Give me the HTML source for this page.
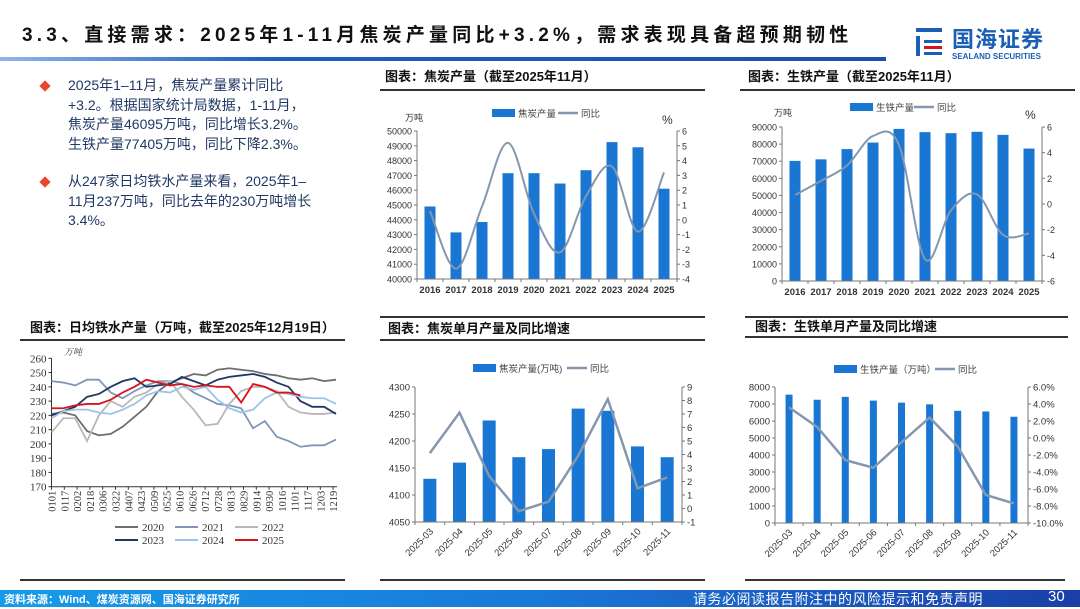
<!DOCTYPE html>
<html><head><meta charset="utf-8">
<style>
body{margin:0;width:1080px;height:607px;overflow:hidden;background:#fff;font-family:"Liberation Sans","Noto Sans CJK SC",sans-serif;position:relative}
.abs{position:absolute;white-space:nowrap}
.bul{color:#1f3864;font-size:14px;line-height:19.5px;position:absolute;left:68px;width:250px}
.dia{position:absolute;left:41px;width:8px;height:8px;background:#e8472c;transform:rotate(45deg)}
</style></head><body>
<div class="abs" style="left:22px;top:20px;font-size:19px;font-weight:bold;letter-spacing:4.2px;color:#111">3.3、直接需求：2025年1-11月焦炭产量同比+3.2%，需求表现具备超预期韧性</div>
<div class="abs" style="left:0;top:57px;width:886px;height:4px;background:linear-gradient(90deg,#8fb6e6,#1f5fbf 30%,#1f4fa8)"></div>
<div class="abs" style="left:912px;top:22px;width:150px;height:42px">
 <svg width="40" height="40" style="position:absolute;left:0;top:0"><rect x="4" y="6" width="26" height="4" fill="#1a5fb4"/><rect x="4" y="14" width="4" height="20" fill="#1a5fb4"/><rect x="12" y="18" width="18" height="3" fill="#1a5fb4"/><rect x="12" y="24" width="18" height="3" fill="#d7141a"/><rect x="12" y="30" width="18" height="3" fill="#1a5fb4"/></svg>
 <div class="abs" style="left:40px;top:0;font-size:22px;font-weight:bold;color:#1a5fb4;letter-spacing:1px">国海证券</div>
 <div class="abs" style="left:40px;top:30px;font-size:8px;font-weight:bold;color:#1a5fb4">SEALAND SECURITIES</div>
</div>
<div class="dia" style="top:82px"></div>
<div class="bul" style="top:76px">2025年1–11月，焦炭产量累计同比+3.2。根据国家统计局数据，1-11月，焦炭产量46095万吨，同比增长3.2%。生铁产量77405万吨，同比下降2.3%。</div>
<div class="dia" style="top:178px"></div>
<div class="bul" style="top:172px">从247家日均铁水产量来看，2025年1–11月237万吨，同比去年的230万吨增长3.4%。</div>
<div class="abs" style="left:0;top:590px;width:1080px;height:17px;background:linear-gradient(90deg,#169be9,#1a78d8 50%,#1a3fa6)"></div>
<div class="abs" style="left:4px;top:591px;font-size:11px;font-weight:bold;color:#fff">资料来源：Wind、煤炭资源网、国海证券研究所</div>
<div class="abs" style="left:693px;top:589px;font-size:14px;color:#fff;letter-spacing:0.5px">请务必阅读报告附注中的风险提示和免责声明</div>
<div class="abs" style="left:1048px;top:588px;font-size:15px;color:#fff">30</div>
<svg id="sv" width="1080" height="607" style="position:absolute;left:0;top:0" font-family="Liberation Sans, Noto Sans CJK SC, sans-serif"></svg>
<script>
// chart 1: coke annual
const c1Cats=['2016','2017','2018','2019','2020','2021','2022','2023','2024','2025'];
const c1Bars=[44900,43150,43850,47150,47150,46450,47350,49250,48900,46100];
const c1Line=[0.6,-3.3,0.9,5.2,0.4,-2.2,1.6,3.6,-0.8,3.2];
const c1LeftTicks=[40000,41000,42000,43000,44000,45000,46000,47000,48000,49000,50000];
const c1RightTicks=[-4,-3,-2,-1,0,1,2,3,4,5,6];
// chart 2: pig iron annual
const c2Cats=['2016','2017','2018','2019','2020','2021','2022','2023','2024','2025'];
const c2Bars=[70200,71100,77100,80900,88900,87000,86400,87200,85400,77400];
const c2Line=[0.7,1.8,3.0,5.3,4.6,-4.3,-0.5,0.75,-2.4,-2.3];
const c2LeftTicks=[0,10000,20000,30000,40000,50000,60000,70000,80000,90000];
const c2RightTicks=[-6,-4,-2,0,2,4,6];
// chart 3: daily hot metal
const c3Cats=['0101','0117','0202','0218','0306','0322','0407','0423','0509','0525','0610','0626','0712','0728','0813','0829','0914','0930','1016','1101','1117','1203','1219'];
const c3Ticks=[170,180,190,200,210,220,230,240,250,260];
const c3Years=['2020','2021','2022','2023','2024','2025'];
const s2020=[221,222,220,209,206,207,212,219,226,237,243,246,249,248,252,253,252,251,249,248,246,245,246,244,245];
const s2021=[244,243,241,245,245,236,232,237,241,244,244,242,236,232,228,227,225,211,216,205,202,198,199,199,203];
const s2022=[208,218,218,202,220,230,226,233,236,242,244,233,224,213,214,228,237,240,240,237,226,222,221,221,222];
const s2023=[220,223,226,233,235,240,244,246,240,241,242,247,244,241,245,247,248,249,247,243,240,230,226,226,221];
const s2024=[218,223,224,224,222,221,224,228,234,237,236,240,238,240,231,225,222,224,232,236,235,233,232,232,228];
const s2025=[225,225,227,228,228,231,236,240,245,243,241,242,240,241,240,240,229,242,240,236,236,234,null,null,null];
// chart 4: coke monthly
const c4Cats=['2025-03','2025-04','2025-05','2025-06','2025-07','2025-08','2025-09','2025-10','2025-11'];
const c4Bars=[4130,4160,4238,4170,4185,4260,4256,4190,4170];
const c4Line=[4.1,7.1,2.4,-0.2,0.5,3.9,8.1,1.5,2.3];
const c4LeftTicks=[4050,4100,4150,4200,4250,4300];
const c4RightTicks=[-1,0,1,2,3,4,5,6,7,8,9];
// chart 5: pig iron monthly
const c5Cats=['2025-03','2025-04','2025-05','2025-06','2025-07','2025-08','2025-09','2025-10','2025-11'];
const c5Bars=[7550,7250,7420,7200,7080,6980,6600,6560,6250];
const c5Line=[3.6,1.3,-2.6,-3.5,-0.5,2.4,-1.0,-6.7,-7.7];
const c5LeftTicks=[0,1000,2000,3000,4000,5000,6000,7000,8000];
const c5RightTicks=[-10,-8,-6,-4,-2,0,2,4,6];

const NS='http://www.w3.org/2000/svg';
const sv=document.getElementById('sv');
function mk(tag,attrs,parent){const e=document.createElementNS(NS,tag);for(const k in attrs)e.setAttribute(k,attrs[k]);(parent||sv).appendChild(e);return e;}
function txt(s,attrs,parent){const e=mk('text',attrs,parent);e.textContent=s;return e;}
function smooth(pts){let d='M'+pts[0][0]+','+pts[0][1];for(let i=0;i<pts.length-1;i++){const p0=pts[i-1]||pts[i],p1=pts[i],p2=pts[i+1],p3=pts[i+2]||p2;const t=6;d+=' C'+(p1[0]+(p2[0]-p0[0])/t)+','+(p1[1]+(p2[1]-p0[1])/t)+' '+(p2[0]-(p3[0]-p1[0])/t)+','+(p2[1]-(p3[1]-p1[1])/t)+' '+p2[0]+','+p2[1];}return d;}
const BAR='#1976d2',LINE='#8497b0';

function panelTitle(s,x,y,lx0,lx1,ly,name){
 const t=txt(s,{x:x,y:y,'font-size':13,'font-weight':'bold',fill:'#111'});
 
 
 const l=mk('line',{x1:lx0,x2:lx1,y1:ly,y2:ly,stroke:'#333','stroke-width':2});
 
 
}

function combo(o){
 const g=mk('g',{});
 
 
 const n=o.cats.length,cw=(o.x1-o.x0)/n;
 const lmin=o.lt[0],lmax=o.lt[o.lt.length-1],rmin=o.rt[0],rmax=o.rt[o.rt.length-1];
 const yl=v=>o.yB-(v-lmin)/(lmax-lmin)*(o.yB-o.yT);
 const yr=v=>o.yB-(v-rmin)/(rmax-rmin)*(o.yB-o.yT);
 const xc=i=>o.x0+cw*(i+0.5);
 o.bars.forEach((v,i)=>{const r=mk('rect',{x:xc(i)-o.bw/2,y:yl(v),width:o.bw,height:o.yB-yl(v),fill:BAR},g);
  
  });
 const pts=o.line.map((v,i)=>[xc(i),yr(v)]);
 const p=mk('path',{d:o.smooth?smooth(pts):'M'+pts.map(q=>q.join(',')).join(' L'),fill:'none',stroke:LINE,'stroke-width':o.lw||2},g);
 
 
 const ax=mk('path',{d:`M${o.x0},${o.yT}V${o.yB}H${o.x1}V${o.yT}`,fill:'none',stroke:'#777','stroke-width':1},g);
 
 
 o.lt.forEach(v=>{mk('line',{x1:o.x0-3,x2:o.x0,y1:yl(v),y2:yl(v),stroke:'#777'},g);
  const t=txt(String(v),{x:o.x0-5,y:yl(v)+3.5,'font-size':o.fs,'text-anchor':'end',fill:'#333'},g);
  
  });
 o.rt.forEach(v=>{mk('line',{x1:o.x1,x2:o.x1+3,y1:yr(v),y2:yr(v),stroke:'#777'},g);
  const t=txt(o.rfmt?o.rfmt(v):String(v),{x:o.x1+5,y:yr(v)+3.5,'font-size':o.fs,fill:'#333'},g);
  
  });
 for(let i=0;i<=n;i++)mk('line',{x1:o.x0+cw*i,x2:o.x0+cw*i,y1:o.yB,y2:o.yB+3,stroke:'#777'},g);
 o.cats.forEach((c,i)=>{let t;
  if(o.rot){t=txt(c,{x:xc(i)+4,y:o.yB+10,'font-size':9.5,'text-anchor':'end',fill:'#333',transform:`rotate(-45 ${xc(i)+4} ${o.yB+10})`},g);}
  else t=txt(c,{x:xc(i),y:o.yB+14,'font-size':9.5,'text-anchor':'middle',fill:'#333','font-weight':'bold'},g);
  
  });
 const lg=mk('g',{},g);
 
 
 mk('rect',{x:o.lx,y:o.ly-4,width:o.lbw,height:8,fill:BAR},lg);
 txt(o.lbl,{x:o.lx+o.lbw+3,y:o.ly+4,'font-size':9.5,fill:'#444'},lg);
 mk('line',{x1:o.llx,x2:o.llx+20,y1:o.ly,y2:o.ly,stroke:LINE,'stroke-width':2.5},lg);
 txt('同比',{x:o.llx+23,y:o.ly+4,'font-size':9.5,fill:'#444'},lg);
 if(o.unitL){const u=txt(o.unitL,{x:o.ux,y:o.uy,'font-size':9,fill:'#333'},g);
  const u2=txt('%',{x:o.px,y:o.uy+3,'font-size':12,fill:'#333'},g);}
}

panelTitle('图表：焦炭产量（截至2025年11月）',385,81,380,705,90,'coke-annual-title');
combo({name:'coke-annual-chart',cats:c1Cats,bars:c1Bars,line:c1Line,lt:c1LeftTicks,rt:c1RightTicks,x0:417,x1:677,yT:131,yB:279,bw:11,fs:9,smooth:true,lx:492,ly:113,lbw:23,lbl:'焦炭产量',llx:558,unitL:'万吨',ux:405,uy:121,px:662});
panelTitle('图表：生铁产量（截至2025年11月）',748,81,740,1075,90,'iron-annual-title');
combo({name:'iron-annual-chart',cats:c2Cats,bars:c2Bars,line:c2Line,lt:c2LeftTicks,rt:c2RightTicks,x0:782,x1:1042,yT:127,yB:281,bw:11,fs:9,smooth:true,lx:850,ly:107,lbw:23,lbl:'生铁产量',llx:914,unitL:'万吨',ux:774,uy:116,px:1025});
mk('line',{x1:380,x2:705,y1:317,y2:317,stroke:'#333','stroke-width':2});
panelTitle('图表：焦炭单月产量及同比增速',388,333,380,705,340,'coke-monthly-title');
combo({name:'coke-monthly-chart',cats:c4Cats,bars:c4Bars,line:c4Line,lt:c4LeftTicks,rt:c4RightTicks,x0:415,x1:682,yT:387,yB:522,bw:13,fs:9.5,rot:true,lw:2.5,lx:473,ly:368,lbw:23,lbl:'焦炭产量(万吨)',llx:567});
mk('line',{x1:745,x2:1068,y1:317,y2:317,stroke:'#333','stroke-width':2});
panelTitle('图表：生铁单月产量及同比增速',755,331,745,1068,337,'iron-monthly-title');
combo({name:'iron-monthly-chart',cats:c5Cats,bars:c5Bars,line:c5Line,lt:c5LeftTicks,rt:c5RightTicks,x0:775,x1:1028,yT:387,yB:523,bw:7,fs:9.5,rot:true,lw:2.5,rfmt:v=>v.toFixed(1)+'%',lx:834,ly:369,lbw:23,lbl:'生铁产量（万吨）',llx:935});

// chart 3
panelTitle('图表：日均铁水产量（万吨，截至2025年12月19日）',30,332,20,345,340,'hot-metal-title');
(function(){
 const g=mk('g',{'font-family':'Liberation Serif, Noto Serif CJK SC, serif'});
 
 
 const x0=51.5,x1=337,yT=358.3,yB=486.7,lo=c3Ticks[0],hi=c3Ticks[c3Ticks.length-1];
 const y=v=>yB-(v-lo)/(hi-lo)*(yB-yT);
 const step=12.8;
 const n=s2020.length, px=i=>x0+i*(x1-x0-1)/(n-1);
 mk('path',{d:`M${x0},${yT}V${yB}H${x1}`,fill:'none',stroke:'#333'},g);
 c3Ticks.forEach(v=>{mk('line',{x1:x0-3,x2:x0,y1:y(v),y2:y(v),stroke:'#333'},g);
  const t=txt(String(v),{x:x0-5,y:y(v)+4,'font-size':11,'text-anchor':'end',fill:'#333'},g);
  
  });
 c3Cats.forEach((c,i)=>{const xx=x0+i*step;mk('line',{x1:xx,x2:xx,y1:yB,y2:yB+3,stroke:'#333'},g);
  const t=txt(c,{x:xx+4,y:yB+4,'font-size':10.5,'text-anchor':'end',fill:'#333',transform:`rotate(-90 ${xx+4} ${yB+4})`},g);
  
  });
 const u=txt('万吨',{x:64,y:355,'font-size':9,fill:'#333','font-style':'italic'},g);
 
 
 const series=[s2020,s2021,s2022,s2023,s2024,s2025];
 const cols=['#6e6e6e','#8096b6','#b8b8b8','#1f3864','#9dc3e6','#d7141a'];
 series.forEach((s,k)=>{let d='';s.forEach((v,i)=>{if(v==null)return;d+=(d?' L':'M')+px(i)+','+y(v);});
  const p=mk('path',{d:d,fill:'none',stroke:cols[k],'stroke-width':1.8},g);
  
  
  const lx=115+(k%3)*60,ly=527+Math.floor(k/3)*13;
  const lg=mk('g',{},g);
  
  
  mk('line',{x1:lx,x2:lx+23,y1:ly,y2:ly,stroke:cols[k],'stroke-width':2},lg);
  txt(c3Years[k],{x:lx+27,y:ly+4,'font-size':11,fill:'#333'},lg);});
})();
[[20,345],[380,705],[745,1065]].forEach(a=>{const l=mk('line',{x1:a[0],x2:a[1],y1:580,y2:580,stroke:'#333','stroke-width':2});
 
 });
</script>
</body></html>
